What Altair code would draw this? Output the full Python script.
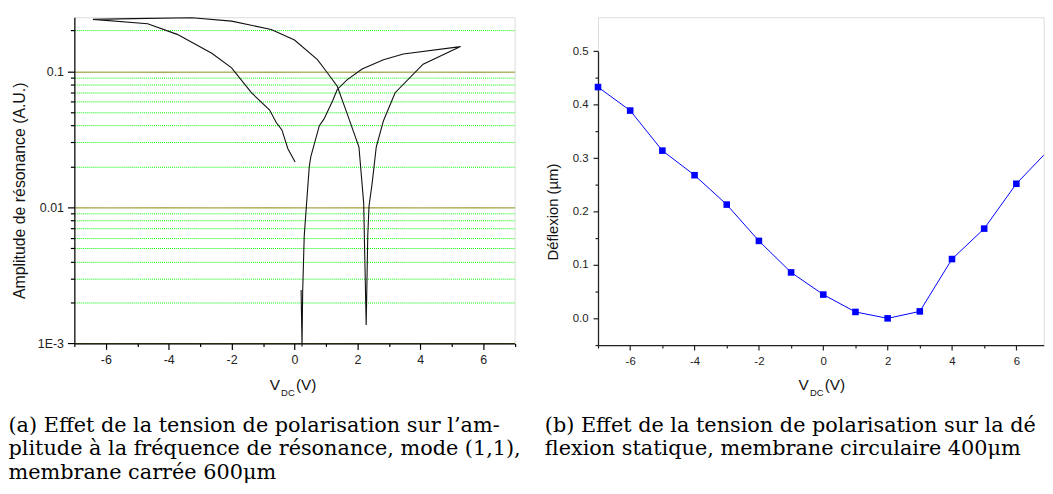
import altair as alt
import pandas as pd

# ---------------- data ----------------
# (a) resonance amplitude vs V_DC, one continuous hysteresis sweep, in drawing order
amp_v = [0.02, -0.21, -0.40, -0.58, -0.79, -1.37, -2.0, -2.63, -3.73, -4.67, -6.41,
         -5.15, -3.26, -2.0, -0.74, 0.0, 0.73, 1.05, 1.36, 1.68, 2.05, 2.2, 2.28,
         2.33, 2.37, 2.47, 2.6, 2.83, 3.2, 4.09, 5.28,
         3.46, 2.83, 2.15, 1.68, 1.36, 1.21, 0.94, 0.79, 0.52, 0.47, 0.40, 0.31,
         0.26, 0.24, 0.21]
amp_a = [0.0216, 0.027, 0.0371, 0.0421, 0.0519, 0.0697, 0.106, 0.136, 0.187, 0.224, 0.241,
         0.244, 0.248, 0.234, 0.203, 0.17, 0.122, 0.0973, 0.0778, 0.0485, 0.0278, 0.0108, 0.00137,
         0.00618, 0.0102, 0.0151, 0.0278, 0.0434, 0.0697, 0.113, 0.152,
         0.134, 0.1216, 0.104, 0.087, 0.0736, 0.0605, 0.0447, 0.0399, 0.0236, 0.0199, 0.012,
         0.00618, 0.0024, 0.00095, 0.00247]

# (b) static deflection vs V_DC
defl_v = [-7, -6, -5, -4, -3, -2, -1, 0, 1, 2, 3, 4, 5, 6, 7]
defl_d = [0.433, 0.389, 0.314, 0.268, 0.213, 0.145, 0.086, 0.0445, 0.012, 0.0, 0.013,
          0.111, 0.168, 0.252, 0.315]

# axis ticks
x_ticks_a = [-7, -6, -5, -4, -3, -2, -1, 0, 1, 2, 3, 4, 5, 6, 7]
x_ticks_b = [-7, -6, -5, -4, -3, -2, -1, 0, 1, 2, 3, 4, 5, 6]
amp_major = [0.001, 0.01, 0.1]
amp_minor = [0.002, 0.003, 0.004, 0.005, 0.006, 0.007, 0.008, 0.009,
             0.02, 0.03, 0.04, 0.05, 0.06, 0.07, 0.08, 0.09, 0.2]
defl_ticks = [-0.05, 0.0, 0.05, 0.1, 0.15, 0.2, 0.25, 0.3, 0.35, 0.4, 0.45, 0.5]

# texts
title_y_a = "Amplitude de résonance (A.U.)"
title_y_b = "Déflexion (µm)"
cap_a = ["(a) Effet de la tension de polarisation sur l’am-",
         "plitude à la fréquence de résonance, mode (1,1),",
         "membrane carrée 600μm"]
cap_b = ["(b) Effet de la tension de polarisation sur la dé",
         "flexion statique, membrane circulaire 400μm"]

# ---------------- styling ----------------
FONT = "Liberation Sans"
SERIF = "DejaVu Serif"
CAP_SIZE = 21
WA, HA = 444.5, 329.4
WB, HB = 450, 331
YB_TOP = 34.4

even = "datum.value % 2 === 0"
major_a = "datum.value === 0.001 || datum.value === 0.01 || datum.value === 0.1"
tenth = "abs(datum.value * 10 - round(datum.value * 10)) < 1e-6"


def cond(test, a, b):
    return {"condition": {"test": test, "value": a}, "value": b}


def x_title(center, base):
    df = pd.DataFrame({"k": [0]})
    parts = [
        ("V", center - 25, base, 15.5),
        ("DC", center - 13.5, base + 6.3, 9.5),
        ("(V)", center + 1.5, base, 15.5),
    ]
    layers = []
    for txt, xx, yy, fs in parts:
        layers.append(
            alt.Chart(df).mark_text(text=txt, align="left", baseline="alphabetic",
                                    font=FONT, fontSize=fs, color="#111")
            .encode(x=alt.value(xx), y=alt.value(yy))
        )
    return layers


def caption(lines, xx, yy):
    return alt.Chart(pd.DataFrame({"k": [0]})).mark_text(
        text=lines, align="left", baseline="alphabetic", font=SERIF,
        fontSize=CAP_SIZE, lineHeight=24, color="#000"
    ).encode(x=alt.value(xx), y=alt.value(yy))


def y_title(txt, xx, yy, fs):
    return alt.Chart(pd.DataFrame({"k": [0]})).mark_text(
        text=txt, angle=270, align="center", baseline="middle",
        font=FONT, fontSize=fs, color="#111"
    ).encode(x=alt.value(xx), y=alt.value(yy))


# ---------------- panel (a) ----------------
dfA = pd.DataFrame({"v": amp_v, "a": amp_a, "i": list(range(len(amp_v)))})

ax_xa = alt.Axis(values=x_ticks_a, title=None, grid=False,
                 labelExpr=f"{even} ? '' + datum.value : ''",
                 tickSize=cond(even, 6, 3), tickColor="#000", domainColor="#000",
                 domainWidth=1.2, tickWidth=1.2,
                 labelFont=FONT, labelFontSize=12.5, labelColor="#222",
                 labelPadding=4, labelOverlap=False, labelFlush=False)
ax_ya = alt.Axis(values=amp_major + amp_minor, title=None, grid=True,
                 gridColor=cond(major_a, "#808000", "#00ff00"),
                 gridDash=cond(major_a, [1, 0], [1, 1]),
                 gridWidth=1, gridOpacity=1,
                 labelExpr="datum.value === 0.001 ? '1E-3' : datum.value === 0.01 ? '0.01' : datum.value === 0.1 ? '0.1' : ''",
                 tickSize=cond(major_a, 7, 4), tickColor="#000", domainColor="#000",
                 domainWidth=1.2, tickWidth=1.2,
                 labelFont=FONT, labelFontSize=12.5, labelColor="#222",
                 labelPadding=4, labelOverlap=False, labelFlush=False)

line_a = alt.Chart(dfA).mark_line(color="#111", strokeWidth=1.1, clip=False).encode(
    x=alt.X("v:Q", scale=alt.Scale(domain=[-7, 7], nice=False, zero=False), axis=ax_xa),
    y=alt.Y("a:Q", scale=alt.Scale(type="log", domain=[0.001, 0.25], nice=False), axis=ax_ya),
    order="i:Q",
)

panel_a = alt.layer(
    line_a,
    y_title(title_y_a, -54.5, 175.2, 16),
    *x_title(WA / 2, 376),
    caption(cap_a, -66.5, 418.5),
).properties(width=WA, height=HA)

# ---------------- panel (b) ----------------
dfB = pd.DataFrame({"v": defl_v, "d": defl_d})

ax_xb = alt.Axis(values=x_ticks_b, title=None, grid=False,
                 labelExpr=f"{even} ? '' + datum.value : ''",
                 tickSize=cond(even, 5, 3), tickColor="#222", domainColor="#222",
                 domainWidth=1.3, tickWidth=1.2,
                 labelFont=FONT, labelFontSize=11.5, labelColor="#222",
                 labelPadding=6, labelOverlap=False, labelFlush=False)
ax_yb = alt.Axis(values=defl_ticks, title=None, grid=False,
                 labelExpr=f"{tenth} ? format(datum.value, '.1f') : ''",
                 tickSize=cond(tenth, 5, 3), tickColor="#222", domainColor="#222",
                 domainWidth=1.3, tickWidth=1.2,
                 labelFont=FONT, labelFontSize=11.5, labelColor="#222",
                 labelPadding=5, labelOverlap=False, labelFlush=False)

xb = alt.X("v:Q", scale=alt.Scale(domain=[-7, 6.85], nice=False, zero=False), axis=ax_xb)
yb = alt.Y("d:Q", scale=alt.Scale(domain=[-0.05, 0.5], range=[HB, YB_TOP], nice=False, zero=False),
           axis=ax_yb)

line_b = alt.Chart(dfB).mark_line(color="#0000ff", strokeWidth=1, clip=True).encode(x=xb, y=yb)
pts_b = alt.Chart(dfB).transform_filter("datum.v <= 6.85").mark_square(
    color="#0000ff", size=44, opacity=1).encode(x=xb, y=yb)

panel_b = alt.layer(
    line_b, pts_b,
    y_title(title_y_b, -45.2, 196.7, 15),
    *x_title(WB * 7 / 13.85, 376),
    caption(cap_b, -53.7, 418.5),
).properties(width=WB, height=HB)

chart = alt.hconcat(panel_a, panel_b, spacing=83.7, bounds="flush").properties(
    padding={"left": 0, "top": 4, "right": 0, "bottom": 0}
).configure_view(stroke=None).configure(background="white")

chart.save("out.html", embed_options={"renderer": "svg", "actions": False})
